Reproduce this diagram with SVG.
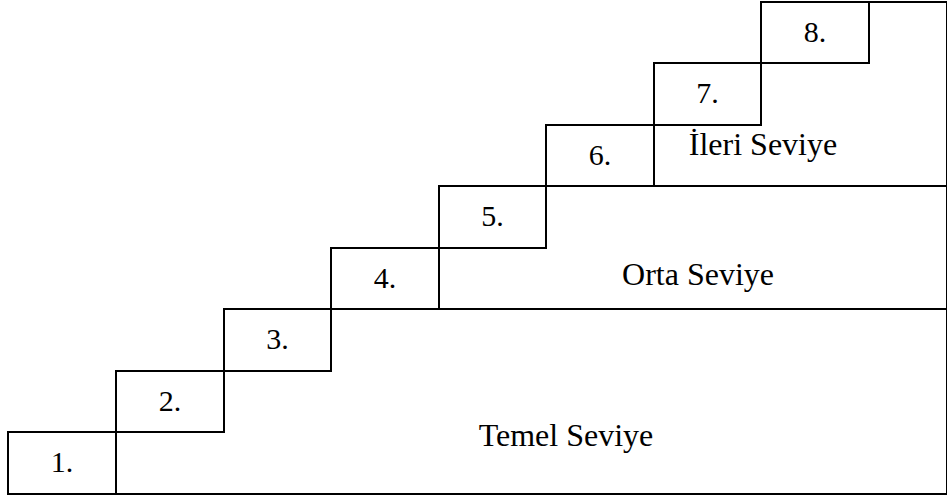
<svg xmlns="http://www.w3.org/2000/svg" width="947" height="497" viewBox="0 0 947 497">
<style>
.s{fill:#fff;stroke:#000;stroke-width:2;}
.t{font-family:"Liberation Serif","Times New Roman",serif;font-size:30px;fill:#000;text-anchor:middle;}
.b{font-size:32px;}
</style>
<rect width="947" height="497" fill="#fff"/>
<g id="band-temel"><path class="s" d="M116 494 H947 V309 H331 V371 H224 V432 H116 Z"/><text class="t b" x="566" y="446">Temel Seviye</text></g>
<g id="band-orta"><path class="s" d="M439 309 H947 V186 H546 V248 H439 Z"/><text class="t b" x="698" y="285">Orta Seviye</text></g>
<g id="band-ileri"><path class="s" d="M654 186 H947 V2 H869 V63 H761 V125 H654 Z"/><text class="t b" x="763" y="155">İleri Seviye</text></g>
<g id="step1"><rect class="s" x="8" y="432" width="108" height="62"/><text class="t" x="62" y="472">1.</text></g>
<g id="step2"><rect class="s" x="116" y="371" width="108" height="61"/><text class="t" x="170" y="411">2.</text></g>
<g id="step3"><rect class="s" x="224" y="309" width="107" height="62"/><text class="t" x="277.5" y="349">3.</text></g>
<g id="step4"><rect class="s" x="331" y="248" width="108" height="61"/><text class="t" x="385" y="288">4.</text></g>
<g id="step5"><rect class="s" x="439" y="186" width="107" height="62"/><text class="t" x="492.5" y="226">5.</text></g>
<g id="step6"><rect class="s" x="546" y="125" width="108" height="61"/><text class="t" x="600" y="165">6.</text></g>
<g id="step7"><rect class="s" x="654" y="63" width="107" height="62"/><text class="t" x="707.5" y="103">7.</text></g>
<g id="step8"><rect class="s" x="761" y="2" width="108" height="61"/><text class="t" x="815" y="42">8.</text></g>
<g id="connectors"/>
</svg>
